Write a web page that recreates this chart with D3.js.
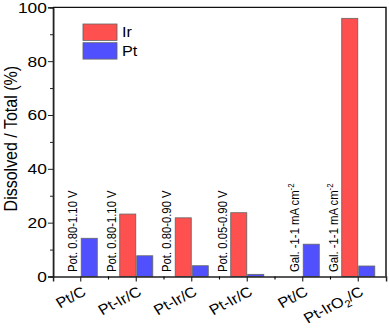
<!DOCTYPE html>
<html>
<head>
<meta charset="utf-8">
<script src="https://cdn.jsdelivr.net/npm/d3@7"></script>
<style>
  body { margin: 0; background: #fff; }
  svg text { font-family: Arial, "Liberation Sans", sans-serif !important; fill: #000; }
</style>
</head>
<body>
<div id="chart"></div>
<script>
// categories along the x axis (some repeat, so bars are keyed by index)
var categories = ['Pt/C', 'Pt-Ir/C', 'Pt-Ir/C', 'Pt-Ir/C', 'Pt/C', 'Pt-IrO_2/C'];
var series = ['Ir', 'Pt'];
var irValues = [null, 23.2, 21.8, 23.7, null, 95.9];
var ptValues = [14.2, 7.7, 4.0, 0.8, 12.0, 3.9];
var notes = ['Pot. 0.80-1.10 V', 'Pot. 0.80-1.10 V', 'Pot. 0.80-0.90 V',
             'Pot. 0.05-0.90 V', 'Gal. -1-1 mA cm^-2', 'Gal. -1-1 mA cm^-2'];
var yMajor = [0, 20, 40, 60, 80, 100];
var yMinor = [10, 30, 50, 70, 90];

var W = 389, H = 328,
    SX = 1.12, // the source picture is a bit wider than tall, text included
    FONT = 'Arial, "Liberation Sans", sans-serif',
    colors = { Ir: '#ff5050', Pt: '#5050ff' },
    frame = { left: 53, right: 386, top: 7.3, bottom: 276.5 };

var svg = d3.select('#chart')
  .append('svg')
  .attr('width', W)
  .attr('height', H)
  .style('font-family', FONT);

var g = svg.append('g').attr('transform', 'scale(' + SX + ',1)');

var x = d3.scaleBand()
  .domain(d3.range(categories.length))
  .range([frame.left / SX, frame.right / SX])
  .padding(0);

var bw = x.bandwidth();
var sub = d3.scaleBand()
  .domain(series)
  .range([bw / 2 - 16.5 / SX, bw / 2 + 16.5 / SX])
  .paddingInner(0.06);

var y = d3.scaleLinear().domain([0, 100]).range([frame.bottom, frame.top]);

var rows = categories.map(function (c, i) {
  return { i: i, Ir: irValues[i], Pt: ptValues[i] };
});

// bars
var groups = g.selectAll('g.group')
  .data(rows)
  .enter()
  .append('g')
  .attr('class', 'group')
  .attr('transform', function (d) { return 'translate(' + x(d.i) + ',0)'; });

groups.selectAll('rect')
  .data(function (d) {
    return series.filter(function (s) { return d[s] != null; })
      .map(function (s) { return { key: s, value: d[s] }; });
  })
  .enter()
  .append('rect')
  .attr('x', function (d) { return sub(d.key); })
  .attr('width', sub.bandwidth())
  .attr('y', function (d) { return y(d.value); })
  .attr('height', function (d) { return y(0) - y(d.value); })
  .style('fill', function (d) { return colors[d.key]; })
  .attr('stroke', '#666')
  .attr('stroke-width', 0.8);

// vertical notes, just left of the first bar of each group
groups.append('text')
  .attr('transform', function (d) {
    var first = d.Ir != null ? 'Ir' : 'Pt';
    return 'translate(' + (sub(first) - 4 / SX) + ',272) rotate(-90)';
  })
  .style('font-size', '11.3px')
  .each(function (d) {
    var t = d3.select(this),
        parts = notes[d.i].split('^');
    t.append('tspan').text(parts[0]);
    if (parts[1]) {
      t.append('tspan').attr('dy', -4.5).style('font-size', '7.8px').text(parts[1]);
    }
  });

// axes
var yAxis = g.append('g')
  .attr('transform', 'translate(' + frame.left / SX + ',0)')
  .call(d3.axisLeft(y).tickValues(yMajor).tickSize(5 / SX).tickPadding(1));
yAxis.selectAll('text').style('font-size', '15.5px');

g.append('g')
  .attr('transform', 'translate(' + frame.left / SX + ',0)')
  .call(d3.axisLeft(y).tickValues(yMinor).tickSize(3 / SX).tickFormat(''));

var xAxis = g.append('g')
  .attr('transform', 'translate(0,' + frame.bottom + ')')
  .call(d3.axisBottom(x).tickSize(5));

xAxis.selectAll('text')
  .attr('x', 0).attr('y', 0).attr('dy', 0)
  .style('text-anchor', 'end')
  .style('font-size', '14.5px')
  .attr('transform', 'translate(' + 6.5 / SX + ',18) rotate(-30)')
  .text(null)
  .each(function (i) {
    var t = d3.select(this),
        parts = categories[i].split('_');
    t.append('tspan').text(parts[0]);
    if (parts[1]) {
      t.append('tspan').attr('dy', 4).style('font-size', '10px').text(parts[1].charAt(0));
      t.append('tspan').attr('dy', -4).text(parts[1].slice(1));
    }
  });

// minor ticks between categories
g.append('g')
  .attr('class', 'minor-x')
  .selectAll('line')
  .data(d3.range(1, categories.length))
  .enter()
  .append('line')
  .attr('x1', function (i) { return x(i); })
  .attr('x2', function (i) { return x(i); })
  .attr('y1', frame.bottom)
  .attr('y2', frame.bottom + 3)
  .attr('stroke', '#000');

// box frame
g.append('path')
  .attr('d', 'M' + frame.left / SX + ',' + frame.top + 'H' + frame.right / SX +
             'V' + frame.bottom)
  .attr('fill', 'none')
  .attr('stroke', '#111')
  .attr('stroke-width', 1.3);

g.selectAll('.domain').attr('stroke', '#222').attr('stroke-width', 1.3);
g.selectAll('.tick line').attr('stroke', '#222');

// y axis title
g.append('text')
  .attr('transform', 'translate(' + 16.5 / SX + ',138.7) rotate(-90)')
  .style('text-anchor', 'middle')
  .style('font-size', '16px')
  .text('Dissolved / Total (%)');

// legend
var legend = g.selectAll('g.legend')
  .data(series)
  .enter()
  .append('g')
  .attr('class', 'legend')
  .attr('transform', function (d, i) { return 'translate(' + 83 / SX + ',' + (24 + i * 18.7) + ')'; });

legend.append('rect')
  .attr('width', 34 / SX)
  .attr('height', 16.4)
  .style('fill', function (d) { return colors[d]; })
  .attr('stroke', '#666')
  .attr('stroke-width', 0.8);

legend.append('text')
  .attr('x', 39 / SX)
  .attr('y', 13.5)
  .style('font-size', '14.5px')
  .text(function (d) { return d; });
</script>
</body>
</html>
